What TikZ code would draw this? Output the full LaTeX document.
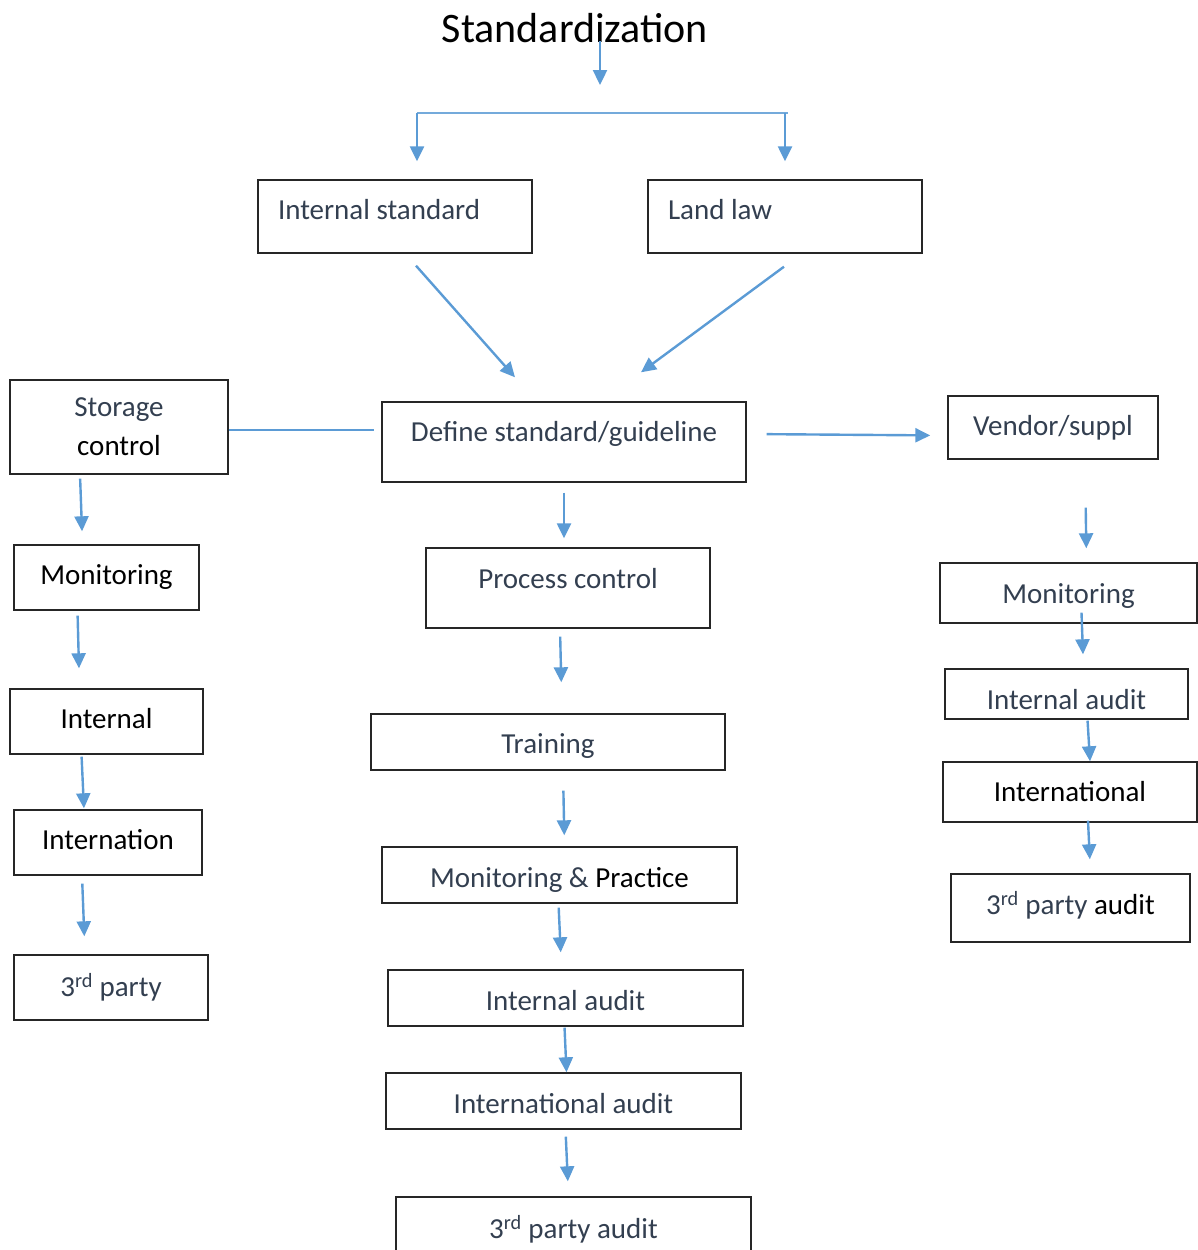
\documentclass[tikz,border=0pt]{standalone}
\usepackage{fontspec}
\setmainfont{Carlito}
\usepackage{tikz}
\usetikzlibrary{
  positioning,
  arrows.meta
}
\definecolor{slate}{RGB}{51,63,80}
\definecolor{flowblue}{RGB}{91,155,213}
% shift box text up or down without changing the box
\newcommand{\lift}[2]{\raisebox{#1}[\height][\depth]{#2}}

\begin{document}
\begin{tikzpicture}[
    x=1pt, y=-1pt,
    font=\fontsize{29}{35}\selectfont,
    % Box styles
    box/.style={
        rectangle, draw=black!85, line width=1.4pt,
        align=center, text=slate, inner sep=0pt
    },
    leftbox/.style={box, inner xsep=20pt, inner ysep=0pt},
    % Arrow styles
    arr/.style={-{Triangle[length=15pt, width=14pt]}, line width=2.4pt, draw=flowblue},
    line/.style={line width=2.4pt, draw=flowblue},
    bar/.style={line width=1.8pt, draw=flowblue!85}
]
\useasboundingbox (0,0) rectangle (1198,1250);

% ==========================================
% NODES & PLACEMENT
% ==========================================

% --- Title and split bar ---
\node[font=\fontsize{42}{50}\selectfont, inner sep=0pt] (title) at (575,28) {Standardization};
\coordinate (barL) at (417,113);
\coordinate (barR) at (788,113);
\coordinate (barM) at (600,113);

% --- Sources ---
\node[leftbox, minimum height=73pt] (isd) at (395,216.5) {\lift{7pt}{\makebox[234pt][l]{Internal standard}}};
\node[leftbox, minimum height=73pt] (land) at (785,216.5) {\lift{7pt}{\makebox[234pt][l]{Land law}}};

% --- Left column ---
\node[box, minimum width=218pt, minimum height=94pt, font=\fontsize{29}{39}\selectfont] (stor) at (119,427) {Storage\\\textcolor{black}{control}};
\node[box, minimum width=185pt, minimum height=65pt, text=black] (mon1) at (106.5,577.5) {Monitoring};
\node[box, minimum width=193pt, minimum height=65pt, text=black] (int1) at (106.5,721.5) {\lift{3pt}{Internal}};
\node[box, minimum width=188pt, minimum height=65pt, text=black] (intn1) at (108,842.5) {\lift{3pt}{Internation}};
\node[box, minimum width=194pt, minimum height=65pt] (trd1) at (111,987.5) {3\textsuperscript{rd} party};

% --- Centre column ---
\node[box, minimum width=364pt, minimum height=80pt] (def) at (564,442) {\lift{8pt}{Define standard/guideline}};
\node[box, minimum width=284pt, minimum height=80pt] (prc) at (568,588) {\lift{9pt}{Process control}};
\node[box, minimum width=354pt, minimum height=56pt] (trn) at (548,742) {\lift{-4pt}{Training}};
\node[box, minimum width=355pt, minimum height=56pt] (mpr) at (559.5,875) {\lift{-5pt}{Monitoring \& \textcolor{black}{Practice}}};
\node[box, minimum width=355pt, minimum height=56pt] (iau) at (565.5,998) {\lift{-3pt}{Internal audit}};
\node[box, minimum width=355pt, minimum height=56pt] (ina) at (563.5,1101) {\lift{-3pt}{International audit}};
\node[box, minimum width=355pt, minimum height=65pt] (tpa) at (573.5,1229.5) {3\textsuperscript{rd} party audit};

% --- Right column ---
\node[box, minimum width=210pt, minimum height=63pt] (ven) at (1053,427.5) {Vendor/suppl};
\node[box, minimum width=257pt, minimum height=60pt] (mon2) at (1068.5,593) {\lift{-3pt}{Monitoring}};
\node[box, minimum width=243pt, minimum height=50pt] (iau2) at (1066.5,694) {\lift{-6pt}{Internal audit}};
\node[box, minimum width=254pt, minimum height=60pt, text=black] (int2) at (1070,792) {International};
\node[box, minimum width=239pt, minimum height=68pt] (tpa2) at (1070.5,908) {\lift{3pt}{3\textsuperscript{rd} party \textcolor{black}{audit}}};

% ==========================================
% ROUTING & ARROWS
% ==========================================

% 1. Title down to split bar
\draw[arr, shorten >=28pt] ([yshift=2pt]title.south -| barM) -- (barM);
\draw[bar] (barL) -- (barR);
\draw[arr, shorten >=18pt] (barL) -- (barL |- isd.north);
\draw[arr, shorten >=18pt] (land.north |- barR) -- (land.north);

% 2. Sources into definition
\draw[arr] ([xshift=21pt, yshift=-12pt]isd.south) -- ([xshift=-49pt, yshift=24pt]def.north);
\draw[arr] ([xshift=-1pt, yshift=-13pt]land.south) -- ([xshift=77pt, yshift=29pt]def.north);

% 3. Side branches
\draw[line, shorten >=7pt] ([yshift=-3pt]stor.east) -- ([yshift=-3pt]stor.east -| def.west);
\draw[arr, shorten <=20pt, shorten >=17pt] ([yshift=8pt]def.east) -- ([yshift=-8pt]ven.west);

% 4. Left chain
\draw[arr, shorten <=4pt, shorten >=13pt] ([xshift=-39pt]stor.south) -- ([xshift=-24pt]mon1.north);
\draw[arr, shorten <=5pt, shorten >=20pt] ([xshift=-29pt]mon1.south) -- ([xshift=-27pt]int1.north);
\draw[arr, shorten <=2pt, shorten >=1pt] ([xshift=-25pt]int1.south) -- ([xshift=-24pt]intn1.north);
\draw[arr, shorten <=8pt, shorten >=18pt] ([xshift=-26pt]intn1.south) -- ([xshift=-26pt]trd1.north);

% 5. Centre chain
\draw[arr, shorten <=10pt, shorten >=9pt] (def.south) -- (def.south |- prc.north);
\draw[arr, shorten <=8pt, shorten >=31pt] ([xshift=-8pt]prc.south) -- ([xshift=14pt]trn.north);
\draw[arr, shorten <=20pt, shorten >=11pt] ([xshift=15pt]trn.south) -- ([xshift=5pt]mpr.north);
\draw[arr, shorten <=4pt, shorten >=17pt] ([xshift=-1pt]mpr.south) -- ([xshift=-4pt]iau.north);
\draw[arr, shorten <=1pt] ([xshift=-1pt]iau.south) -- ([xshift=3pt]ina.north);
\draw[arr, shorten <=7pt, shorten >=15pt] ([xshift=2pt]ina.south) -- ([xshift=-5pt]tpa.north);

% 6. Right chain
\draw[arr, shorten <=48pt, shorten >=14pt] ([xshift=32pt]ven.south) -- ([xshift=18pt]mon2.north);
\draw[arr, shorten >=14pt] ([xshift=13pt, yshift=11pt]mon2.south) -- ([xshift=17pt]iau2.north);
\draw[arr, shorten <=1pt] ([xshift=21pt]iau2.south) -- ([xshift=20pt]int2.north);
\draw[arr, shorten >=14pt] ([xshift=18pt, yshift=2pt]int2.south) -- ([xshift=20pt]tpa2.north);

\end{tikzpicture}
\end{document}
